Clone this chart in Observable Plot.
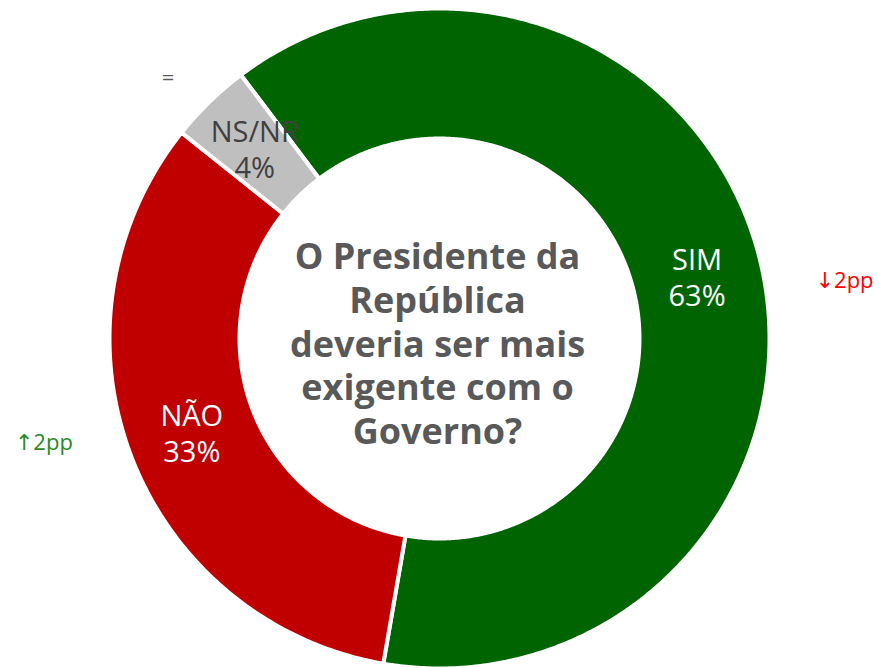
<!DOCTYPE html>
<html><head><meta charset="utf-8">
<script src="https://cdn.jsdelivr.net/npm/d3@7"></script>
<script src="https://cdn.jsdelivr.net/npm/@observablehq/plot@0.6"></script>
<style>body{margin:0;background:#fff;overflow:hidden}</style>
</head><body><div id="chart"></div>
<script>
// ---- data ----
const categories = ["SIM", "NÃO", "NS/NR"];
const values = [63, 33, 4];
const valueLabels = ["63%", "33%", "4%"];
const changes = ["↓2pp", "↑2pp", "="];
const question = ["O Presidente da", "República", "deveria ser mais", "exigente com o", "Governo?"];

// ---- style ----
const sliceColors = ["#006400", "#C00000", "#BFBFBF"];
const labelColors = ["#ffffff", "#ffffff", "#404040"];
const changeColors = ["#FF0000", "#2A8A2A", "#595959"];
const changeAngleOffset = [5.5, 6, -2];
const changeRadius = [1.24, 1.24, 1.14];

const W = 879, H = 668, cx = 439, cy = 338, R = 330;
const inner = 0.606;
const start = -37; // degrees clockwise from top
const deg = Math.PI / 180;

const total = d3.sum(values);
let acc = start;
const slices = categories.map((c, i) => {
  const a0 = acc, a1 = acc + values[i] / total * 360;
  acc = a1;
  return {cat: c, i, a0, a1, mid: (a0 + a1) / 2};
});

const pts = [];
for (const s of slices) {
  const n = Math.max(4, Math.ceil((s.a1 - s.a0) * 2));
  for (let k = 0; k <= n; k++) {
    const a = (s.a0 + (s.a1 - s.a0) * k / n) * deg;
    pts.push({cat: s.cat, color: sliceColors[s.i], x: Math.sin(a), y: Math.cos(a)});
  }
  for (let k = n; k >= 0; k--) {
    const a = (s.a0 + (s.a1 - s.a0) * k / n) * deg;
    pts.push({cat: s.cat, color: sliceColors[s.i], x: inner * Math.sin(a), y: inner * Math.cos(a)});
  }
}

const midR = (1 + inner) / 2;
const labels = slices.map(s => ({
  text: s.cat + "\n" + valueLabels[s.i],
  color: labelColors[s.i],
  x: midR * Math.sin(s.mid * deg),
  y: midR * Math.cos(s.mid * deg)
}));
const changeData = slices.map(s => {
  const a = (s.mid + changeAngleOffset[s.i]) * deg;
  return {text: changes[s.i], color: changeColors[s.i],
          x: changeRadius[s.i] * Math.sin(a), y: changeRadius[s.i] * Math.cos(a)};
});

const chart = Plot.plot({
  width: W, height: H,
  margin: 0,
  x: {domain: [-cx / R, (W - cx) / R], range: [0, W], axis: null},
  y: {domain: [-(H - cy) / R, cy / R], range: [H, 0], axis: null},
  color: {type: "identity"},
  style: {background: "#fff"},
  marks: [
    Plot.line(pts, {x: "x", y: "y", z: "cat", fill: "color", stroke: "#fff", strokeWidth: 4, curve: "linear-closed"}),
    Plot.text(labels, {x: "x", y: "y", text: "text", fill: "color", fontSize: 29, lineHeight: 1.25, fontFamily: "Open Sans", fontWeight: 400}),
    Plot.text(changeData, {x: "x", y: "y", text: "text", fill: "color", fontSize: 22, fontFamily: "Open Sans, DejaVu Sans"}),
    Plot.text([question.join("\n")], {x: 0, y: 0, dx: -2, dy: 4, text: d => d, fill: "#595959", fontSize: 36, lineHeight: 1.22, fontWeight: 700, fontFamily: "Open Sans"})
  ]
});
document.getElementById("chart").appendChild(chart);
</script>
</body></html>
